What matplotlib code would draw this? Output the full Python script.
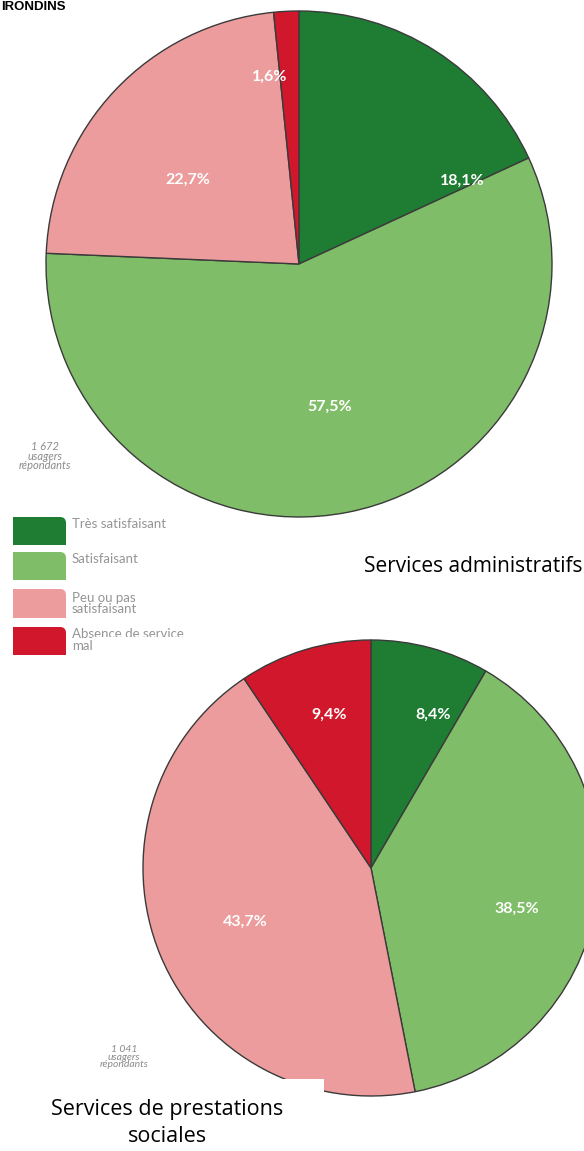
import matplotlib
matplotlib.use("Agg")
import matplotlib.pyplot as plt
from matplotlib.patches import Rectangle, FancyBboxPatch

W, H = 584, 1151

# données
categories = ["Très satisfaisant", "Satisfaisant", "Peu ou pas\nsatisfaisant", "Absence de service\nmal"]
admin_values = [18.1, 57.5, 22.7, 1.6]
social_values = [8.4, 38.5, 43.7, 9.4]
admin_n = "1 672"
social_n = "1 041"
colors = ["#1e7d33", "#80bd68", "#ec9c9c", "#d0172b"]

plt.rcParams["font.family"] = ["Lato", "DejaVu Sans"]

fig = plt.figure(figsize=(W / 100, H / 100), dpi=100)
ax = fig.add_axes([0, 0, 1, 1])


def Y(y):
    # coordonnées image -> axes (y vers le haut)
    return H - y


def draw_pie(values, cx, cy, r, label_pos, zorder=2):
    wedges, _ = ax.pie(values, colors=colors, startangle=90, counterclock=False,
                       center=(cx, Y(cy)), radius=r,
                       wedgeprops=dict(edgecolor="#3a3a3a", linewidth=1.0))
    for w in wedges:
        w.set_zorder(zorder)
    for v, (lx, ly) in zip(values, label_pos):
        ax.text(lx, Y(ly), f"{v:.1f}%".replace(".", ","), color="white",
                fontsize=11.5, fontweight="bold", ha="center", va="center", zorder=zorder + 1)


# masque blanc sous le deuxième camembert (légende tronquée)
ax.add_patch(Rectangle((92, Y(690)), 150, 53, facecolor="white", edgecolor="none", zorder=1.5))

draw_pie(admin_values, 299, 264, 253,
         [(462, 181), (330, 407), (188, 180), (270, 77)])
draw_pie(social_values, 371, 868, 228,
         [(433, 715), (517, 909), (245, 922), (329, 715)])

# masque blanc en bas du deuxième camembert
ax.add_patch(Rectangle((40, 0), 284, Y(1079), facecolor="white", edgecolor="none", zorder=5))

# titre tronqué
ax.text(1, Y(1), "IRONDINS", fontsize=9.5, fontweight="bold", color="black",
        ha="left", va="top", family=["Liberation Sans", "DejaVu Sans"])

# effectifs
ax.text(45, Y(456), admin_n + "\nusagers\nrépondants", fontsize=8, style="italic",
        color="#8c8c8c", ha="center", va="center", linespacing=0.85)
ax.text(124, Y(1057), social_n + "\nusagers\nrépondants", fontsize=7.5, style="italic",
        color="#8c8c8c", ha="center", va="center", linespacing=0.85, zorder=1)

# légende
leg_rows = [(517, 545), (552, 580), (589, 618), (627, 655)]
leg_text_y = [524, 559, 603, 640]
for (y0, y1), ty, c, lab in zip(leg_rows, leg_text_y, colors, categories):
    ax.add_patch(FancyBboxPatch((13, Y(y1)), 53, y1 - y0,
                                boxstyle="round,pad=0,rounding_size=6",
                                facecolor=c, edgecolor="none", zorder=1))
    ax.add_patch(Rectangle((13, Y(y1)), 40, y1 - y0, facecolor=c, edgecolor="none", zorder=1))
    ax.add_patch(Rectangle((13, Y(y1)), 53, (y1 - y0) / 2, facecolor=c, edgecolor="none", zorder=1))
    ax.text(72, Y(ty), lab, fontsize=9.5, color="#959595", ha="left", va="center",
            linespacing=0.9, zorder=1)

# sous-titres
ax.text(582, Y(566), "Services administratifs", fontsize=15, color="black",
        ha="right", va="center", family=["Open Sans", "DejaVu Sans"], zorder=6)
ax.text(167, Y(1123), "Services de prestations\nsociales", fontsize=15.5, color="black",
        ha="center", va="center", linespacing=1.4, family=["Open Sans", "DejaVu Sans"], zorder=6)

ax.set_xlim(0, W)
ax.set_ylim(0, H)
ax.set_aspect("auto")
ax.axis("off")

fig.savefig("out.png", dpi=100)
